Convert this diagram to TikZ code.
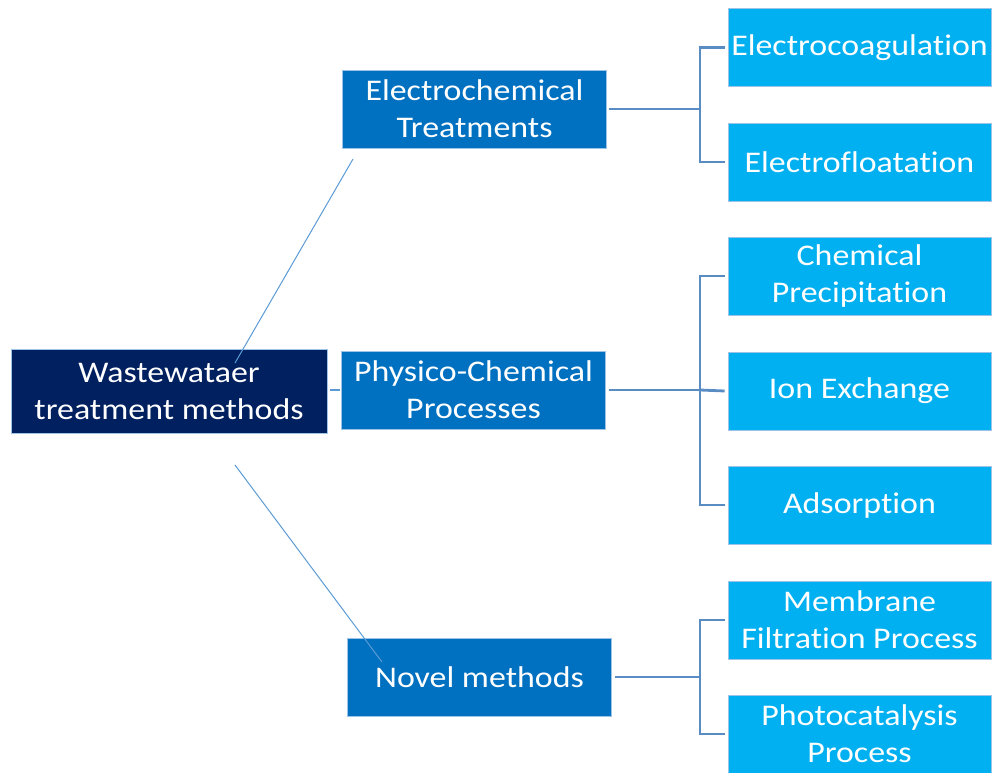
\documentclass[tikz,border=0pt]{standalone}
\usepackage{fontspec}
\setmainfont{Carlito}[FakeStretch=1.13, Ligatures=NoCommon]
\usetikzlibrary{calc}
\definecolor{rootc}{HTML}{002060}
\definecolor{midc}{HTML}{0070C0}
\definecolor{leafc}{HTML}{00B0F0}
\definecolor{edgec}{HTML}{9DC3E6}
\definecolor{linec}{HTML}{5B9BD5}
\definecolor{brc}{HTML}{5A8CC4}
\tikzset{
  box/.style={inner sep=0pt, align=center, text=white, draw=edgec, line width=0.6pt,
    font=\fontsize{30}{37}\selectfont, minimum height=78pt},
  rootbox/.style={box, fill=rootc, minimum width=316pt, minimum height=84pt},
  midbox/.style={box, fill=midc, minimum width=264pt},
  leafbox/.style={box, fill=leafc, minimum width=263pt},
  diag/.style={draw=linec, line width=1pt},
  br/.style={draw=brc, line width=2.8pt}
}
\begin{document}
\begin{tikzpicture}[x=1pt,y=-1pt]
\useasboundingbox (0,0) rectangle (997,772);
\node[rootbox] (root) at (169,391) {Wastewataer\\treatment methods};
\node[midbox] (ec) at (474.5,109) {Electrochemical\\Treatments};
\node[midbox] (pc) at (473.5,390) {Physico-Chemical\\Processes};
\node[midbox] (nm) at (479.5,677) {Novel methods};
\node[leafbox] (l1) at (859.5,47.5) {Electrocoagulation};
\node[leafbox] (l2) at (859.5,162) {Electrofloatation};
\node[leafbox] (l3) at (859.5,276) {Chemical\\Precipitation};
\node[leafbox] (l4) at (859.5,391) {Ion Exchange};
\node[leafbox] (l5) at (859.5,505) {Adsorption};
\node[leafbox] (l6) at (859.5,620) {Membrane\\Filtration Process};
\node[leafbox] (l7) at (859.5,734) {Photocatalysis\\Process};
% diagonal connectors
\coordinate (ra) at (235,363);
\coordinate (ea) at (353,159);
\coordinate (rb) at (235,465);
\coordinate (nb) at (382,662);
\coordinate (rc) at (330,390);
\coordinate (pcw) at (340,390);
\draw[diag] (ra) -- (ea);
\draw[diag] (rb) -- (nb);
\draw[draw=linec, line width=2pt] (rc) -- (pcw);
% brackets
\coordinate (j1) at (700,109);
\coordinate (j2) at (700,390);
\coordinate (j3) at (700,677);
\draw[br] ($(ec.east)+(2,0)$) -- (j1);
\draw[br] ($(l1.west)+(-3,0)$) -| (j1) |- ($(l2.west)+(-3,0)$);
\draw[br] ($(pc.east)+(3,0)$) -- (j2);
\draw[br] ($(l3.west)+(-3,0)$) -| (j2) |- ($(l5.west)+(-3,0)$);
\draw[br] (j2) -- ($(l4.west)+(-3,0)$);
\draw[br] ($(nm.east)+(3,0)$) -- (j3);
\draw[br] ($(l6.west)+(-3,0)$) -| (j3) |- ($(l7.west)+(-3,0)$);
\end{tikzpicture}
\end{document}
